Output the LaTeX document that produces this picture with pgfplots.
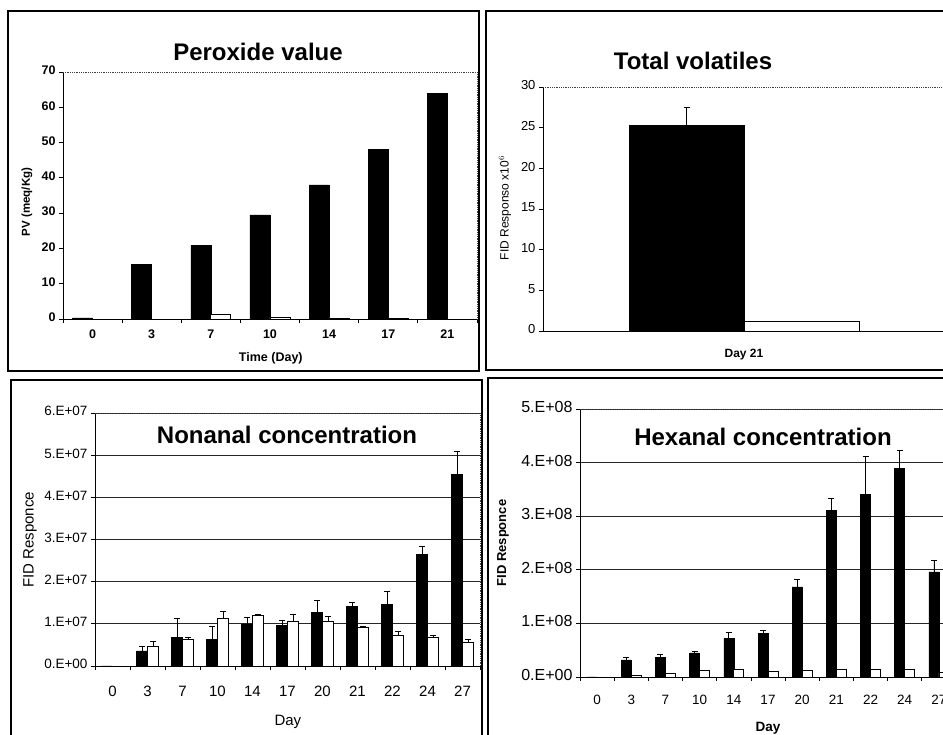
\documentclass[border=0pt]{standalone}
\usepackage{fontspec}
\setmainfont{Liberation Sans}
\usepackage{pgfplots}
\usepackage{pgfplotstable}
\pgfplotsset{compat=1.18}

\pgfplotstableread{
x b w
0 0.3 0
1 15.5 0
2 20.8 1.2
3 29.5 0.5
4 38.0 0.3
5 48.0 0.3
6 64.0 0
}\pv

\pgfplotstableread{
x b be w we
0 0 0 0 0
1 0.36 0.10 0.46 0.12
2 0.67 0.46 0.63 0.05
3 0.64 0.29 1.14 0.16
4 1.00 0.15 1.21 0.01
5 0.97 0.12 1.05 0.17
6 1.27 0.29 1.05 0.12
7 1.41 0.11 0.92 0.01
8 1.46 0.32 0.72 0.11
9 2.64 0.19 0.67 0.06
10 4.54 0.55 0.55 0.08
}\nonanal

\pgfplotstableread{
x b be w
0 0 0 0
1 0.32 0.04 0.03
2 0.37 0.05 0.06
3 0.45 0.02 0.12
4 0.72 0.11 0.14
5 0.81 0.06 0.11
6 1.68 0.14 0.12
7 3.11 0.23 0.14
8 3.41 0.70 0.14
9 3.89 0.33 0.14
10 1.96 0.21 0.08
}\hexanal

\pgfplotsset{
  panel/.style={
    scale only axis, anchor=south west,
    axis x line*=bottom, axis y line*=left,
    ymin=0, tick align=outside, major tick length=4pt,
    axis line style={black, line width=0.9pt},
    tick style={black, line width=0.8pt},
    typeset ticklabels with strut,
    /pgf/number format/assume math mode=true,
    after end axis/.code={\draw[black!75, densely dotted, line width=0.8pt] (rel axis cs:0,1) -- (rel axis cs:1,1) -- (rel axis cs:1,0);},
  },
  blackbar/.style={fill=black, draw=black, line width=0.6pt},
  whitebar/.style={fill=white, draw=black, line width=0.8pt},
  eb/.style={error bars/.cd, y dir=plus, y explicit, error bar style={black, line width=0.8pt}, error mark options={rotate=90, black, line width=0.8pt, mark size=3pt}},
}

\begin{document}
\begin{tikzpicture}
\fill[white] (0pt,0pt) rectangle (943pt,735pt);
\begin{scope}
\clip (0pt,0pt) rectangle (943pt,735pt);
% frames
\draw[line width=1.3pt] (8pt,364pt) rectangle (479pt,724pt);
\draw[line width=1.3pt] (486pt,365pt) rectangle (950pt,724pt);
\draw[line width=1.3pt] (11pt,-5pt) rectangle (482pt,355pt);
\draw[line width=1.3pt] (488pt,-5pt) rectangle (950pt,357pt);

% Panel 1: Peroxide value
\begin{axis}[panel, at={(63pt,416pt)}, width=414pt, height=247pt,
  ybar=0pt, bar width=20pt,
  xmin=-0.5, xmax=6.5, ymax=70, ytick={0,10,...,70},
  xtick={-0.5,0.5,...,6.5}, xticklabels={},
  extra x ticks={0,1,2,3,4,5,6}, extra x tick labels={0,3,7,10,14,17,21},
  extra x tick style={major tick length=0pt},
  ticklabel style={font=\bfseries\fontsize{12.5}{14}\selectfont},
  xticklabel style={yshift=-6pt},
  xlabel={Time (Day)}, ylabel={PV (meq/Kg)},
  xlabel style={font=\bfseries\fontsize{12.5}{14}\selectfont, at={(axis description cs:0.502,-0.16)}, anchor=center},
  ylabel style={font=\bfseries\fontsize{11.5}{13}\selectfont, at={(axis description cs:-0.087,0.474)}, anchor=center},
]
\addplot[blackbar] table[x=x, y=b] {\pv};
\addplot[whitebar] table[x=x, y=w] {\pv};
\end{axis}
\node[font=\bfseries\fontsize{24}{28}\selectfont] at (258pt,683pt) {Peroxide value};

% Panel 2: Total volatiles
\begin{axis}[panel, at={(543pt,404pt)}, width=402pt, height=244pt,
  ybar=0pt, bar width=115pt,
  xmin=-0.5, xmax=0.5, ymax=30, ytick={0,5,...,30},
  xtick={0}, xticklabels={Day 21}, x tick style={draw=none},
  yticklabel style={font=\fontsize{13}{15}\selectfont},
  xticklabel style={font=\bfseries\fontsize{12}{14}\selectfont, yshift=-9pt},
  ylabel={FID Responso x10$^{6}$},
  ylabel style={font=\fontsize{12}{14}\selectfont, at={(axis description cs:-0.0945,0.504)}, anchor=center},
]
\addplot[blackbar, eb] coordinates {(0,25.3) +- (0,2.2)};
\addplot[whitebar] coordinates {(0,1.2)};
\end{axis}
\node[font=\bfseries\fontsize{24}{28}\selectfont] at (693pt,674pt) {Total volatiles};

% Panel 3: Nonanal
\begin{axis}[panel, at={(95pt,69pt)}, width=385pt, height=253pt,
  ybar=0pt, bar width=11pt,
  xmin=-0.5, xmax=10.5, ymax=6, ytick={0,1,...,6},
  yticklabels={0.E+00,1.E+07,2.E+07,3.E+07,4.E+07,5.E+07,6.E+07},
  ymajorgrids, grid style={black!85, line width=0.7pt},
  xtick={-0.5,0.5,...,10.5}, xticklabels={},
  extra x ticks={0,1,...,10}, extra x tick labels={0,3,7,10,14,17,20,21,22,24,27},
  extra x tick style={major tick length=0pt, grid=none},
  yticklabel style={font=\fontsize{13.5}{15}\selectfont},
  xticklabel style={font=\fontsize{15}{17}\selectfont, yshift=-15pt},
  xlabel={Day}, ylabel={FID Responce},
  xlabel style={font=\fontsize{15}{17}\selectfont, at={(axis description cs:0.501,-0.221)}, anchor=center},
  ylabel style={font=\fontsize{15}{17}\selectfont, at={(axis description cs:-0.169,0.498)}, anchor=center},
]
\addplot[blackbar, eb] table[x=x, y=b, y error=be] {\nonanal};
\addplot[whitebar, eb] table[x=x, y=w, y error=we] {\nonanal};
\end{axis}
\node[font=\bfseries\fontsize{24}{28}\selectfont] at (287pt,300pt) {Nonanal concentration};

% Panel 4: Hexanal
\begin{axis}[panel, at={(580pt,58pt)}, width=376pt, height=268pt,
  ybar=0pt, bar width=10pt,
  xmin=-0.5, xmax=10.5, ymax=5, ytick={0,1,...,5},
  yticklabels={0.E+00,1.E+08,2.E+08,3.E+08,4.E+08,5.E+08},
  ymajorgrids, grid style={black!85, line width=0.7pt},
  xtick={-0.5,0.5,...,10.5}, xticklabels={},
  extra x ticks={0,1,...,10}, extra x tick labels={0,3,7,10,14,17,20,21,22,24,27},
  extra x tick style={major tick length=0pt, grid=none},
  yticklabel style={font=\fontsize{16}{18}\selectfont},
  xticklabel style={font=\fontsize{13.5}{16}\selectfont, yshift=-13pt},
  xlabel={Day}, ylabel={FID Responce},
  xlabel style={font=\bfseries\fontsize{13.5}{16}\selectfont, at={(axis description cs:0.5,-0.19)}, anchor=center},
  ylabel style={font=\bfseries\fontsize{13}{15}\selectfont, at={(axis description cs:-0.205,0.5)}, anchor=center},
]
\addplot[blackbar, eb] table[x=x, y=b, y error=be] {\hexanal};
\addplot[whitebar] table[x=x, y=w] {\hexanal};
\end{axis}
\node[font=\bfseries\fontsize{24}{28}\selectfont] at (763pt,298pt) {Hexanal concentration};
\end{scope}
\pgfresetboundingbox
\useasboundingbox (0pt,0pt) rectangle (943pt,735pt);
\end{tikzpicture}
\end{document}
